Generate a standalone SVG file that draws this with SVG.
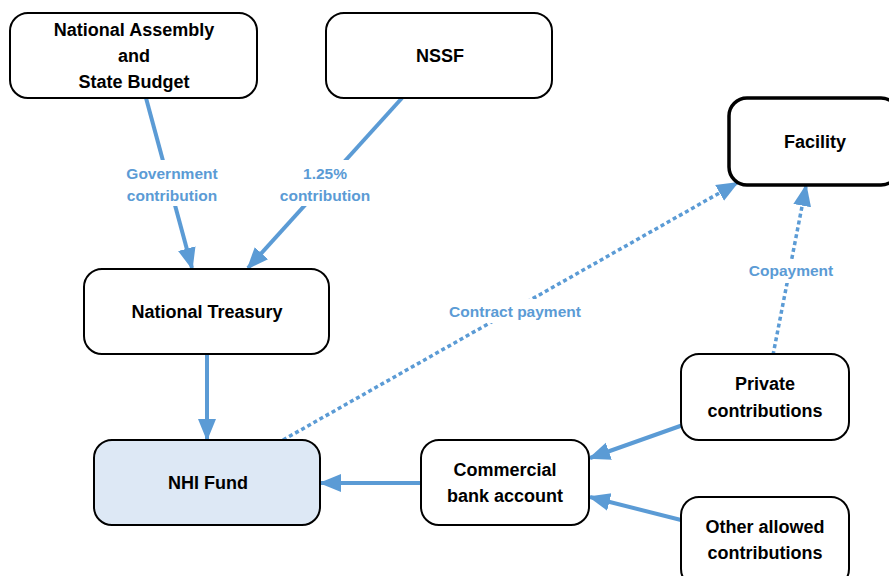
<svg xmlns="http://www.w3.org/2000/svg" width="889" height="576" viewBox="0 0 889 576">
<style>
.box{fill:#fff;stroke:#000;stroke-width:2}
.t{font-family:"Liberation Sans",Arial,sans-serif;font-weight:bold;font-size:18px;fill:#000;text-anchor:middle}
.lbl{font-family:"Liberation Sans",Arial,sans-serif;font-weight:bold;font-size:15.5px;fill:#5b9bd5;text-anchor:middle}
.c{stroke:#5b9bd5;stroke-width:4;fill:none}
.d{stroke:#5b9bd5;stroke-width:3.5;fill:none;stroke-dasharray:4 3}
.bg{fill:#fff}
</style>
<defs>
<marker id="ah" markerUnits="userSpaceOnUse" markerWidth="22" markerHeight="22" viewBox="0 0 22 22" refX="20" refY="11" orient="auto">
<path d="M0,2 L22,11 L0,20 Z" fill="#5b9bd5"/>
</marker>
</defs>
<g id="connectors">
<line class="c" x1="146" y1="98" x2="192" y2="268" marker-end="url(#ah)"/>
<line class="c" x1="402" y1="98" x2="248" y2="268" marker-end="url(#ah)"/>
<line class="c" x1="207" y1="354" x2="207" y2="439" marker-end="url(#ah)"/>
<line class="d" x1="283" y1="440" x2="737" y2="183" marker-end="url(#ah)"/>
<line class="d" x1="773" y1="355" x2="806" y2="186" marker-end="url(#ah)"/>
<line class="c" x1="683" y1="425" x2="590" y2="458" marker-end="url(#ah)"/>
<line class="c" x1="681" y1="520" x2="590" y2="497" marker-end="url(#ah)"/>
<line class="c" x1="421" y1="483" x2="321" y2="483" marker-end="url(#ah)"/>
<rect class="bg" x="118" y="160" width="108" height="46"/>
<text class="lbl" x="172" y="179">Government</text>
<text class="lbl" x="172" y="201">contribution</text>
<rect class="bg" x="272" y="160" width="106" height="46"/>
<text class="lbl" x="325" y="179">1.25%</text>
<text class="lbl" x="325" y="201">contribution</text>
<rect class="bg" x="442" y="299" width="146" height="24"/>
<text class="lbl" x="515" y="317">Contract payment</text>
<rect class="bg" x="744" y="259" width="94" height="24"/>
<text class="lbl" x="791" y="276">Copayment</text>
</g>
<g id="national-assembly">
<rect class="box" x="10" y="13" width="247" height="85" rx="18"/>
<text class="t" x="134" y="36">National Assembly</text>
<text class="t" x="134" y="62">and</text>
<text class="t" x="134" y="88">State Budget</text>
</g>
<g id="nssf">
<rect class="box" x="326" y="13" width="226" height="85" rx="18"/>
<text class="t" x="440" y="62">NSSF</text>
</g>
<g id="facility">
<rect class="box" x="729" y="98" width="170" height="87" rx="18" style="stroke-width:3.5"/>
<text class="t" x="815" y="148">Facility</text>
</g>
<g id="national-treasury">
<rect class="box" x="84" y="269" width="245" height="85" rx="18"/>
<text class="t" x="207" y="318">National Treasury</text>
</g>
<g id="nhi-fund">
<rect class="box" x="94" y="440" width="226" height="85" rx="18" style="fill:#dde8f5"/>
<text class="t" x="208" y="489">NHI Fund</text>
</g>
<g id="commercial-bank">
<rect class="box" x="421" y="440" width="168" height="85" rx="18"/>
<text class="t" x="505" y="476">Commercial</text>
<text class="t" x="505" y="502">bank account</text>
</g>
<g id="private-contributions">
<rect class="box" x="681" y="354" width="168" height="86" rx="18"/>
<text class="t" x="765" y="390">Private</text>
<text class="t" x="765" y="417">contributions</text>
</g>
<g id="other-contributions">
<rect class="box" x="681" y="497" width="168" height="90" rx="18"/>
<text class="t" x="765" y="533">Other allowed</text>
<text class="t" x="765" y="559">contributions</text>
</g>
</svg>
